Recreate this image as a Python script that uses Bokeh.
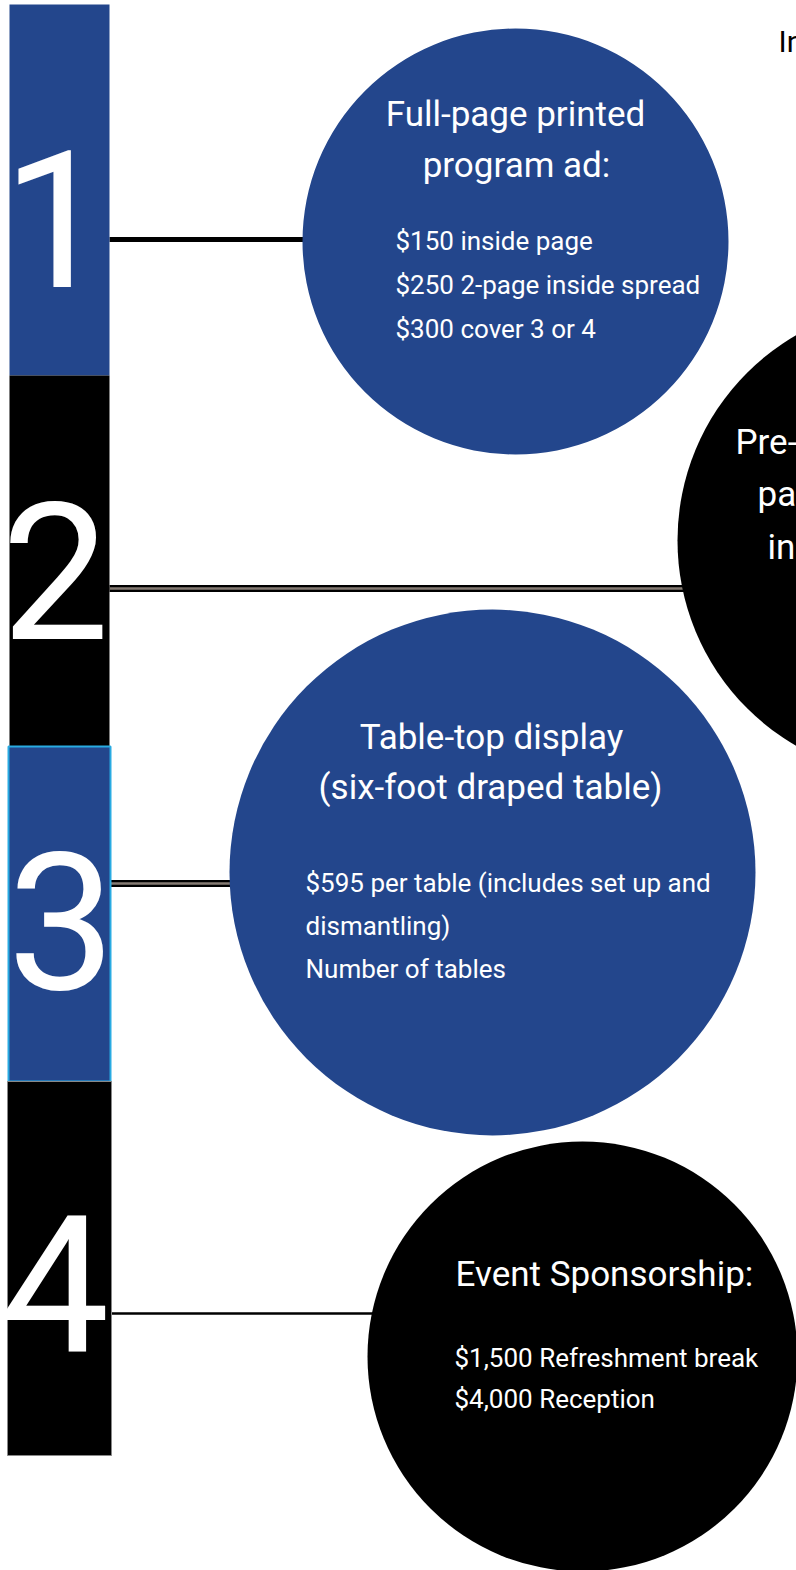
from bokeh.plotting import figure
from bokeh.models import Range1d
from bokeh.core.properties import value
from bokeh.embed import file_html
from bokeh.resources import INLINE

# ---------------- content ----------------
step_labels = ["1", "2", "3", "4"]

titles_1 = ["Full-page printed", "program ad:"]
items_1 = ["$150 inside page", "$250 2-page inside spread", "$300 cover 3 or 4"]

lines_2 = ["Pre-conference", "package", "includes"]

titles_3 = ["Table-top display", "(six-foot draped table)"]
items_3 = ["$595 per table (includes set up and", "dismantling)", "Number of tables"]

titles_4 = ["Event Sponsorship:"]
items_4 = ["$1,500 Refreshment break", "$4,000 Reception"]

corner_text = ["In"]

# ---------------- layout (page pixels) ----------------
BLUE = "#23468c"
BLACK = "#000000"
GREY = "#857b73"
FONT = "Roboto"
SHIFT = 0.37  # baseline correction, in em

blk_left = [9, 9, 8, 7]
blk_right = [109, 109, 110, 111]
blk_top = [4, 375, 746, 1081]
blk_bottom = [375, 746, 1081, 1455]
blk_fill = [BLUE, BLACK, BLUE, BLACK]
blk_line = [BLUE, BLACK, "#29abe2", "#888888"]
blk_lw = [0, 0, 2, 1]

NUM_SIZE = 192
num_x = [56, 55, 61, 55]
num_base = [289, 641, 991, 1354]

circ_x = [515, 914, 492, 582]
circ_y = [241, 540, 872, 1356]
circ_r = [213, 237, 263, 215]
circ_fill = [BLUE, BLACK, BLUE, BLACK]

conn_x0 = [109, 109, 110, 111]
conn_x1 = [320, 700, 250, 385]
conn_y = [239, 588, 883, 1313]

p = figure(width=796, height=1570,
           x_range=Range1d(0, 796), y_range=Range1d(1570, 0),
           output_backend="svg", toolbar_location=None,
           x_axis_location=None, y_axis_location=None,
           min_border=0, background_fill_color="white",
           border_fill_color="white")
p.xgrid.visible = False
p.ygrid.visible = False
p.outline_line_color = None

# connectors
p.segment(x0=conn_x0[0:1], y0=conn_y[0:1], x1=conn_x1[0:1], y1=conn_y[0:1],
          line_color=BLACK, line_width=5)
p.segment(x0=conn_x0[1:3], y0=conn_y[1:3], x1=conn_x1[1:3], y1=conn_y[1:3],
          line_color=BLACK, line_width=7)
p.segment(x0=conn_x0[1:3], y0=conn_y[1:3], x1=conn_x1[1:3], y1=conn_y[1:3],
          line_color=GREY, line_width=2.5)
p.segment(x0=conn_x0[3:4], y0=conn_y[3:4], x1=conn_x1[3:4], y1=conn_y[3:4],
          line_color=BLACK, line_width=2.5)

# circles
p.circle(x=circ_x, y=circ_y, radius=circ_r, fill_color=circ_fill,
         line_color=None)

# number blocks
p.quad(left=blk_left, right=blk_right, top=blk_top, bottom=blk_bottom,
       fill_color=blk_fill, line_color=blk_line, line_width=blk_lw)


def txt(xs, baselines, texts, size, align, color="white"):
    ys = [b - SHIFT * size for b in baselines]
    p.text(x=xs, y=ys, text=texts, text_color=color,
           text_font=value(FONT), text_font_size=value(f"{size}px"),
           text_align=align, text_baseline="alphabetic")


txt(num_x, num_base, step_labels, NUM_SIZE, "center")

# circle 1
txt([515, 516], [127, 178], titles_1, 35, "center")
txt([395] * 3, [250, 294, 338], items_1, 26, "left")
# circle 2
txt([735, 757, 767], [455, 507, 560], lines_2, 35, "left")
# circle 3
txt([491, 490], [750, 800], titles_3, 35, "center")
txt([305] * 3, [892, 935, 978], items_3, 26, "left")
# circle 4
txt([455], [1287], titles_4, 35, "left")
txt([454] * 2, [1367, 1408], items_4, 26, "left")
# corner
txt([778], [52], corner_text, 30, "left", color="black")

open("out.html", "w").write(file_html(p, INLINE))
